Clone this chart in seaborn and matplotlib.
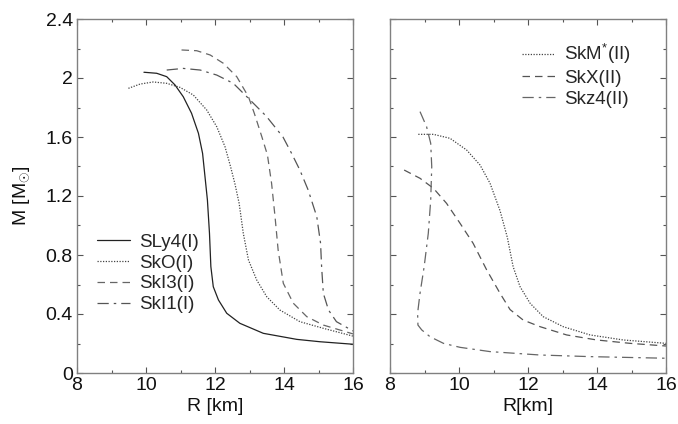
import matplotlib
matplotlib.use("Agg")
import matplotlib.pyplot as plt
import seaborn as sns
import pandas as pd
from matplotlib.ticker import MultipleLocator

sns.set_style("ticks")
plt.rcParams['font.family'] = ['Liberation Sans', 'DejaVu Sans']
plt.rcParams['mathtext.fontset'] = 'custom'
plt.rcParams['mathtext.rm'] = 'Liberation Sans'
plt.rcParams['mathtext.it'] = 'Liberation Sans'

# ---- Left panel data (R [km], M [Msun]) ----
sly4_r = [9.94, 10.31, 10.60, 10.84, 11.08, 11.32, 11.52, 11.64, 11.71, 11.78, 11.84, 11.88, 11.95,
          12.10, 12.34, 12.72, 13.40, 14.37, 15.04, 16.0]
sly4_m = [2.039, 2.032, 2.009, 1.953, 1.873, 1.761, 1.625, 1.489, 1.331, 1.173, 0.947, 0.721, 0.585,
          0.495, 0.405, 0.337, 0.269, 0.228, 0.212, 0.195]

sko_r = [9.49, 9.83, 10.21, 10.60, 10.99, 11.37, 11.76, 12.05, 12.29, 12.45, 12.58, 12.70, 12.82,
         12.97, 13.21, 13.50, 13.88, 14.46, 15.14, 16.0]
sko_m = [1.93, 1.959, 1.973, 1.964, 1.936, 1.885, 1.783, 1.67, 1.534, 1.40, 1.28, 1.15, 0.947,
         0.766, 0.63, 0.517, 0.427, 0.348, 0.303, 0.25]

ski3_r = [11.03, 11.47, 11.86, 12.24, 12.63, 12.97, 13.14, 13.36, 13.52, 13.64, 13.74, 13.83,
          13.98, 14.27, 14.66, 15.14, 16.0]
ski3_m = [2.19, 2.185, 2.156, 2.10, 2.009, 1.873, 1.76, 1.60, 1.478, 1.286, 1.06, 0.834,
          0.608, 0.473, 0.382, 0.325, 0.265]

ski1_r = [10.60, 11.08, 11.57, 12.05, 12.53, 12.97, 13.49, 13.97, 14.22, 14.46, 14.70, 14.95,
          15.06, 15.09, 15.14, 15.29, 15.52, 16.0]
ski1_m = [2.054, 2.065, 2.054, 2.02, 1.964, 1.862, 1.74, 1.60, 1.489, 1.376, 1.241, 1.06,
          0.879, 0.721, 0.54, 0.427, 0.348, 0.285]

# ---- Right panel data ----
skm_r = [8.82, 9.26, 9.74, 10.22, 10.61, 10.90, 11.19, 11.40, 11.57, 11.77, 12.06, 12.44,
         13.02, 13.80, 14.76, 16.0]
skm_m = [1.618, 1.618, 1.591, 1.512, 1.41, 1.286, 1.10, 0.92, 0.72, 0.585, 0.473, 0.382,
         0.314, 0.258, 0.224, 0.201]

skx_r = [8.41, 8.87, 9.26, 9.64, 10.03, 10.41, 10.80, 11.19, 11.48, 11.86, 12.35, 13.12,
         13.99, 14.96, 16.0]
skx_m = [1.376, 1.32, 1.252, 1.15, 1.015, 0.879, 0.70, 0.54, 0.43, 0.359, 0.314, 0.258,
         0.224, 0.201, 0.183]

skz4_r = [8.87, 9.06, 9.18, 9.21, 9.18, 9.11, 8.99, 8.87, 8.80, 8.81, 8.92, 9.16, 9.55, 10.03,
          10.90, 12.35, 13.80, 16.0]
skz4_m = [1.772, 1.67, 1.557, 1.399, 1.173, 0.947, 0.721, 0.54, 0.405, 0.325, 0.292, 0.246, 0.201,
          0.174, 0.145, 0.122, 0.111, 0.10]

left_series = [
    ("SLy4(I)", sly4_r, sly4_m, "#222222", None),
    ("SkO(I)", sko_r, sko_m, "#444444", (0, (1, 1.2))),
    ("SkI3(I)", ski3_r, ski3_m, "#666666", (0, (6, 4))),
    ("SkI1(I)", ski1_r, ski1_m, "#555555", (0, (9, 4, 2, 4))),
]
right_series = [
    ("SkM$^{*}$(II)", skm_r, skm_m, "#444444", (0, (1, 1.2))),
    ("SkX(II)", skx_r, skx_m, "#555555", (0, (6, 4))),
    ("Skz4(II)", skz4_r, skz4_m, "#666666", (0, (9, 4, 2, 4))),
]

fig = plt.figure(figsize=(6.78, 4.24), dpi=100)
axL = fig.add_axes([77/678, 51/424, 276/678, 354/424])
axR = fig.add_axes([390/678, 51/424, 276/678, 354/424])

def draw(ax, series):
    for name, r, m, col, ls in series:
        df = pd.DataFrame({"R": r, "M": m})
        sns.lineplot(data=df, x="R", y="M", sort=False, estimator=None, ax=ax,
                     color=col, lw=0.9, label=name,
                     linestyle='-' if ls is None else ls)

draw(axL, left_series)
draw(axR, right_series)

xt = [8, 10, 12, 14, 16]
xtl = ["8", "10", "12", "14", "16"]
yt = [0, 0.4, 0.8, 1.2, 1.6, 2.0, 2.4]
ytl = ["0", "0.4", "0.8", "1.2", "1.6", "2", "2.4"]

for ax in (axL, axR):
    ax.set_xlim(8, 16)
    ax.set_ylim(0, 2.4)
    ax.set_xticks(xt)
    ax.set_xticklabels(xtl)
    ax.set_yticks(yt)
    ax.set_yticklabels(ytl)
    ax.xaxis.set_minor_locator(MultipleLocator(1))
    ax.yaxis.set_minor_locator(MultipleLocator(0.2))
    ax.tick_params(which='both', direction='in', top=True, right=True,
                   colors='#555555', labelcolor='#111111', labelsize=14, width=0.8)
    ax.tick_params(which='major', length=4.5, pad=3)
    ax.tick_params(which='minor', length=2.5)
    for s in ax.spines.values():
        s.set_color('#808080')
        s.set_linewidth(1.0)

axR.tick_params(labelleft=False)

axL.set_xlabel("R [km]", fontsize=14, color='#111111', labelpad=3)
axL.set_ylabel(r"M [M$_{\odot}$]", fontsize=14, color='#111111', labelpad=10)
axR.set_xlabel("R[km]", fontsize=14, color='#111111', labelpad=3)
axR.set_ylabel("")

leg_kw = dict(frameon=False, fontsize=13.5, handlelength=1.75, labelspacing=0.2,
              handletextpad=0.5, borderaxespad=0, borderpad=0)
axL.legend(loc='upper left', bbox_to_anchor=(0.072, 0.394), **leg_kw)
axR.legend(loc='upper left', bbox_to_anchor=(0.478, 0.935), **leg_kw)

fig.savefig("out.png", dpi=100)
